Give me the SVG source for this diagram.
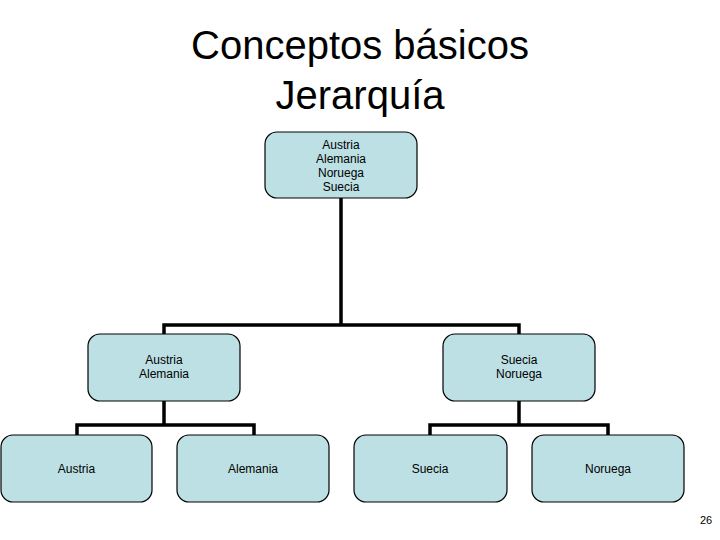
<svg xmlns="http://www.w3.org/2000/svg" width="720" height="540" viewBox="0 0 720 540">
<style>
.n{fill:#BDE0E4;stroke:#000;stroke-width:1.2}
.t{font-family:"Liberation Sans",Arial,sans-serif;font-size:12px;fill:#000;text-anchor:middle}
.c{fill:none;stroke:#000;stroke-width:3.5}
.title{font-family:"Liberation Sans",Arial,sans-serif;font-size:40px;fill:#000;text-anchor:middle}
</style>
<rect width="720" height="540" fill="#fff"/>
<text class="title" x="360" y="59">Conceptos básicos</text>
<text class="title" x="360" y="109">Jerarquía</text>
<g id="connectors">
<polyline class="c" points="341,198 341,325"/>
<polyline class="c" points="164,334 164,325 519,325 519,334"/>
<polyline class="c" points="164,401 164,425"/>
<polyline class="c" points="77,436 77,425 254,425 254,436"/>
<polyline class="c" points="519,401 519,425"/>
<polyline class="c" points="430,436 430,425 608,425 608,436"/>
</g>
<g id="root">
<rect class="n" x="265" y="132" width="152" height="66" rx="12"/>
<text class="t" x="341" y="149">Austria</text>
<text class="t" x="341" y="163">Alemania</text>
<text class="t" x="341" y="177">Noruega</text>
<text class="t" x="341" y="191">Suecia</text>
</g>
<g id="mid-left">
<rect class="n" x="88" y="334" width="152" height="67" rx="12"/>
<text class="t" x="164" y="364">Austria</text>
<text class="t" x="164" y="378">Alemania</text>
</g>
<g id="mid-right">
<rect class="n" x="443" y="334" width="152" height="67" rx="12"/>
<text class="t" x="519" y="364">Suecia</text>
<text class="t" x="519" y="378">Noruega</text>
</g>
<g id="austria">
<rect class="n" x="1" y="435" width="151" height="67" rx="12"/>
<text class="t" x="76.5" y="473">Austria</text>
</g>
<g id="alemania">
<rect class="n" x="177" y="435" width="152" height="67" rx="12"/>
<text class="t" x="253" y="473">Alemania</text>
</g>
<g id="suecia">
<rect class="n" x="354" y="435" width="153" height="67" rx="12"/>
<text class="t" x="430" y="473">Suecia</text>
</g>
<g id="noruega">
<rect class="n" x="532" y="435" width="152" height="67" rx="12"/>
<text class="t" x="608" y="473">Noruega</text>
</g>
<text x="706" y="524" style="font-family:'Liberation Sans',Arial,sans-serif;font-size:11px;text-anchor:middle">26</text>
</svg>
